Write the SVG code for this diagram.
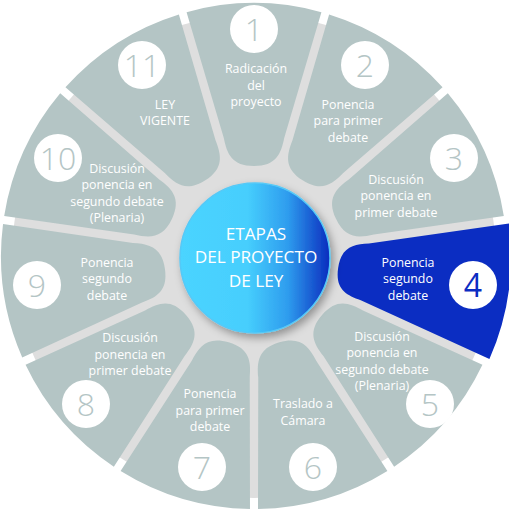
<svg xmlns="http://www.w3.org/2000/svg" width="509" height="512" viewBox="0 0 509 512">
<defs>
<style>
.seg{fill:#b4c5c5}
.segb{fill:#0b2dc2}
.num{fill:#fff}
.d{font-family:"Open Sans","Liberation Sans",sans-serif;font-weight:300;font-size:32px;fill:#b4c5c5;text-anchor:middle}
.db{font-family:"Open Sans","Liberation Sans",sans-serif;font-weight:400;font-size:32px;fill:#0b2dc2;text-anchor:middle}
.t{font-family:"Open Sans","Liberation Sans",sans-serif;font-size:12.4px;fill:#fff;text-anchor:middle}
.c{font-family:"Open Sans","Liberation Sans",sans-serif;font-size:17.2px;fill:#fff;text-anchor:middle}
</style>
<path id="p" d="M -67.42,-243.85 A 253 253 0 0 1 67.42,-243.85 L 30.2,-118 C 27,-102 22,-90 0,-90 C -22,-90 -27,-102 -30.2,-118 Z"/>
<linearGradient id="g" x1="0" y1="0" x2="1" y2="0">
<stop offset="0" stop-color="#4bd4ff"/>
<stop offset="0.45" stop-color="#46cefd"/>
<stop offset="0.72" stop-color="#2e9cee"/>
<stop offset="1" stop-color="#0a2cbe"/>
</linearGradient>
<filter id="sh" x="-20%" y="-20%" width="150%" height="150%">
<feDropShadow dx="3" dy="4" stdDeviation="4" flood-color="#000" flood-opacity="0.35"/>
</filter>
</defs>
<circle cx="254" cy="256" r="242" fill="#dedede"/>
<g id="seg1"><use href="#p" class="seg" transform="translate(254,256) rotate(0)"/><circle class="num" cx="254" cy="29" r="24"/><text class="d" x="254" y="40.5">1</text>
<text class="t" x="256" y="72.5">Radicación</text><text class="t" x="256" y="89.5">del</text><text class="t" x="256" y="106">proyecto</text></g>
<g id="seg2"><use href="#p" class="seg" transform="translate(254,256) rotate(32.7273)"/><circle class="num" cx="365" cy="65" r="24"/><text class="d" x="365" y="76.5">2</text>
<text class="t" x="348" y="108.5">Ponencia</text><text class="t" x="348" y="125">para primer</text><text class="t" x="348" y="141.5">debate</text></g>
<g id="seg3"><use href="#p" class="seg" transform="translate(254,256) rotate(65.4545)"/><circle class="num" cx="454" cy="158" r="24"/><text class="d" x="454" y="169.5">3</text>
<text class="t" x="396" y="183.5">Discusión</text><text class="t" x="396" y="200">ponencia en</text><text class="t" x="396" y="216.5">primer debate</text></g>
<g id="seg4"><path class="segb" transform="translate(254,256) rotate(98.1818)" d="M -68.55,-247.69 A 257 257 0 0 1 68.55,-247.69 L 28.7,-112 C 25.5,-96 21,-85 0,-85 C -21,-85 -25.5,-96 -28.7,-112 Z"/><circle class="num" cx="473" cy="285" r="24"/><text class="db" x="473" y="296.5">4</text>
<text class="t" x="408" y="266.5">Ponencia</text><text class="t" x="408" y="283">segundo</text><text class="t" x="408" y="299.5">debate</text></g>
<g id="seg5"><use href="#p" class="seg" transform="translate(254,256) rotate(130.9091)"/><circle class="num" cx="430" cy="404" r="24"/><text class="d" x="430" y="415.5">5</text>
<text class="t" x="382" y="340.5">Discusión</text><text class="t" x="382" y="357">ponencia en</text><text class="t" x="382" y="373.5">segundo debate</text><text class="t" x="382" y="390">(Plenaria)</text></g>
<g id="seg6"><use href="#p" class="seg" transform="translate(254,256) rotate(163.6364)"/><circle class="num" cx="313" cy="467" r="24"/><text class="d" x="313" y="478.5">6</text>
<text class="t" x="303" y="407.5">Traslado a</text><text class="t" x="303" y="424.5">Cámara</text></g>
<g id="seg7"><use href="#p" class="seg" transform="translate(254,256) rotate(196.3636)"/><circle class="num" cx="202" cy="467" r="24"/><text class="d" x="202" y="478.5">7</text>
<text class="t" x="210" y="397.5">Ponencia</text><text class="t" x="210" y="414.5">para primer</text><text class="t" x="210" y="431">debate</text></g>
<g id="seg8"><use href="#p" class="seg" transform="translate(254,256) rotate(229.0909)"/><circle class="num" cx="86" cy="404" r="24"/><text class="d" x="86" y="415.5">8</text>
<text class="t" x="130" y="341.5">Discusión</text><text class="t" x="130" y="358.5">ponencia en</text><text class="t" x="130" y="375">primer debate</text></g>
<g id="seg9"><use href="#p" class="seg" transform="translate(254,256) rotate(261.8182)"/><circle class="num" cx="37" cy="285" r="24"/><text class="d" x="37" y="296.5">9</text>
<text class="t" x="107" y="266.5">Ponencia</text><text class="t" x="107" y="283">segundo</text><text class="t" x="107" y="299.5">debate</text></g>
<g id="seg10"><use href="#p" class="seg" transform="translate(254,256) rotate(294.5455)"/><circle class="num" cx="58" cy="158" r="24"/><text class="d" x="58" y="169.5">10</text>
<text class="t" x="117" y="172.5">Discusión</text><text class="t" x="117" y="189">ponencia en</text><text class="t" x="117" y="205.5">segundo debate</text><text class="t" x="117" y="222">(Plenaria)</text></g>
<g id="seg11"><use href="#p" class="seg" transform="translate(254,256) rotate(327.2727)"/><circle class="num" cx="142" cy="65" r="24"/><text class="d" x="142" y="76.5">11</text>
<text class="t" x="165" y="108.5">LEY</text><text class="t" x="165" y="125">VIGENTE</text></g>
<g id="center"><circle cx="255" cy="258" r="75" fill="url(#g)" stroke="#55c9f7" stroke-width="1.5" filter="url(#sh)"/>
<text class="c" x="256" y="239.5">ETAPAS</text><text class="c" x="256" y="263">DEL PROYECTO</text><text class="c" x="256" y="286.5">DE LEY</text></g>
</svg>
